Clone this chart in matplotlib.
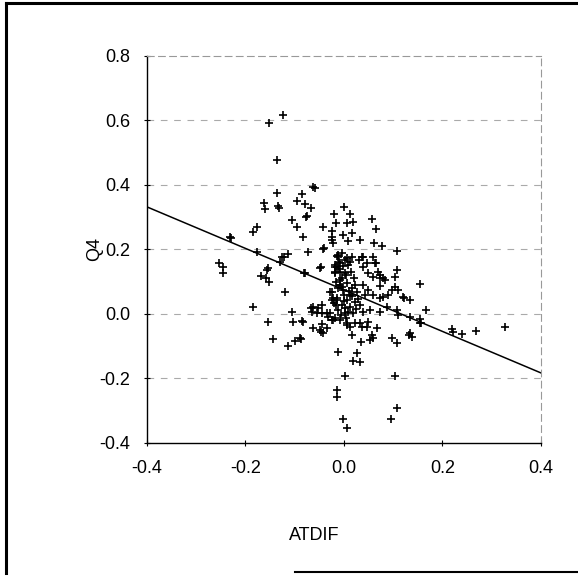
import matplotlib
matplotlib.use("Agg")
import matplotlib.pyplot as plt
from matplotlib.lines import Line2D

plt.rcParams['font.family'] = ['Liberation Sans', 'DejaVu Sans']

# scatter points (ATDIF, Q4)
atdif = [-0.124, -0.152, -0.136, -0.136, -0.063, -0.059, -0.162, -0.160, -0.134, -0.132,
         -0.095, -0.085, -0.079, -0.067, -0.077, -0.075, -0.020, -0.016, -0.106, -0.095,
         -0.043, -0.177, -0.185, -0.083, -0.229, -0.231, -0.024, -0.024, -0.024, -0.022,
         -0.073, -0.043, -0.012, -0.122, -0.114, -0.177, -0.254, -0.246, -0.246, -0.154,
         -0.049, -0.018, -0.169, -0.156, -0.158, -0.152, -0.120, -0.185, -0.106, -0.154,
         -0.104, -0.085, -0.144, -0.114, -0.099, -0.087, -0.063, -0.049, -0.043, -0.035,
         -0.067, -0.063, -0.045, -0.055, -0.045, -0.035, -0.028, -0.022, -0.012, -0.014,
         -0.014, -0.024, -0.022, -0.014, -0.024, -0.018, -0.018, -0.079, -0.083, -0.045,
         -0.047, 0.006, 0.022, 0.049, 0.067, 0.016, 0.037, 0.057, 0.053, 0.059,
         0.035, 0.097, 0.108, 0.132, 0.026, 0.018, 0.032, 0.002, 0.104, 0.108,
         -0.002, 0.095, 0.006, 0.154, 0.122, 0.134, 0.166, 0.154, 0.154, 0.156,
         0.134, 0.138, 0.219, 0.221, 0.240, 0.268, 0.327, 0.108, 0.104, 0.104,
         0.110, 0.108, 0.065, 0.073, 0.079, 0.089, 0.079, 0.073, -0.047, -0.081,
         -0.089, -0.041, 0.000, 0.012, 0.006, 0.018, 0.057, 0.065, -0.002, 0.016,
         0.008, 0.032, 0.061, 0.077, 0.037, 0.059, -0.012, 0.006, 0.012, -0.008,
         -0.002, 0.108, -0.126, -0.130, -0.014, -0.004, -0.010, 0.002, 0.016, 0.008,
         -0.014, -0.008, -0.018, 0.002, 0.039, 0.063, 0.047, 0.039, 0.030, 0.049,
         0.069, 0.059, 0.073, 0.083, -0.008, 0.006, 0.016, -0.002, 0.026, 0.039,
         0.049, 0.059, 0.073, -0.028, 0.097, -0.014, 0.006, 0.022, -0.004, 0.012,
         0.032, -0.012, 0.002, 0.018, 0.039, 0.053, 0.073, 0.087, -0.053, -0.065,
         -0.032, -0.024, -0.008, 0.006, 0.032, 0.047, 0.012, 0.110, 0.134, 0.120,
         -0.008, 0.000, -0.016, -0.006, 0.004, 0.012, 0.022, -0.004, -0.012, 0.016,
         0.002, -0.018, 0.008, -0.010, 0.004, 0.020, -0.004, 0.010, 0.028, -0.020,
         0.000, 0.014, -0.016, 0.024, 0.042]
q4 = [0.617, 0.592, 0.478, 0.375, 0.394, 0.391, 0.344, 0.326, 0.335, 0.329,
      0.350, 0.372, 0.341, 0.329, 0.301, 0.304, 0.310, 0.282, 0.291, 0.270,
      0.270, 0.270, 0.254, 0.239, 0.236, 0.239, 0.257, 0.239, 0.229, 0.220,
      0.192, 0.202, 0.183, 0.177, 0.186, 0.192, 0.158, 0.146, 0.127, 0.143,
      0.143, 0.152, 0.118, 0.136, 0.112, 0.099, 0.068, 0.022, 0.006, -0.025,
      -0.025, -0.022, -0.078, -0.099, -0.084, -0.078, -0.043, -0.050, -0.059, -0.043,
      0.019, 0.022, 0.028, 0.003, 0.003, 0.003, 0.003, -0.019, -0.118, -0.236,
      -0.257, 0.068, 0.050, 0.043, 0.043, 0.146, 0.127, 0.127, -0.025, -0.031,
      -0.056, -0.034, -0.028, -0.025, -0.043, -0.065, -0.040, -0.065, -0.081, -0.074,
      -0.087, -0.074, -0.090, -0.065, -0.121, -0.146, -0.149, -0.192, -0.192, -0.291,
      -0.326, -0.326, -0.353, 0.093, 0.050, 0.043, 0.012, -0.016, -0.028, -0.028,
      -0.059, -0.071, -0.047, -0.056, -0.062, -0.053, -0.040, 0.136, 0.115, 0.084,
      0.074, 0.012, 0.158, 0.121, 0.112, 0.059, 0.053, 0.087, 0.146, 0.127,
      -0.074, 0.205, 0.332, 0.310, 0.282, 0.285, 0.295, 0.264, 0.245, 0.251,
      0.226, 0.229, 0.220, 0.211, 0.177, 0.177, 0.177, 0.174, 0.161, 0.158,
      0.149, 0.195, 0.177, 0.161, 0.180, 0.189, 0.161, 0.167, 0.177, 0.152,
      0.146, 0.130, 0.130, 0.127, 0.177, 0.158, 0.158, 0.146, 0.167, 0.127,
      0.130, 0.115, 0.112, 0.105, 0.105, 0.096, 0.081, 0.074, 0.068, 0.090,
      0.074, 0.059, 0.050, 0.068, 0.074, 0.050, 0.043, 0.037, 0.028, 0.022,
      0.028, 0.012, 0.003, 0.003, 0.006, 0.012, 0.006, 0.022, 0.019, 0.006,
      -0.009, -0.019, -0.019, -0.028, -0.028, -0.040, -0.040, -0.003, -0.009, 0.053,
      0.090, 0.059, 0.028, -0.003, -0.012, 0.059, 0.090, 0.112, 0.081, 0.056,
      0.019, -0.012, 0.006, 0.140, 0.120, 0.110, 0.085, 0.070, 0.045, 0.035,
      0.040, 0.130, 0.100, 0.016, 0.060]

# fitted regression line end points
fit_x = [-0.4, 0.4]
fit_y = [0.332, -0.183]

x_ticks = [-0.4, -0.2, 0.0, 0.2, 0.4]
y_ticks = [-0.4, -0.2, 0.0, 0.2, 0.4, 0.6, 0.8]

fig = plt.figure(figsize=(5.78, 5.76), dpi=100)
ax = fig.add_axes([0.254, 0.231, 0.682, 0.672])

# dashed horizontal grid
for yt in y_ticks[1:-1]:
    ax.axhline(yt, color='#aaaaaa', lw=0.8, ls=(0, (6, 6)), zorder=0)

ax.plot(atdif, q4, '+', color='black', ms=6, mew=1.2, zorder=3)
ax.plot(fit_x, fit_y, color='black', lw=1.1, zorder=2)

ax.set_xlim(-0.4, 0.4)
ax.set_ylim(-0.4, 0.8)
ax.set_xticks(x_ticks)
ax.set_yticks(y_ticks)
ax.set_xticklabels(['%.1f' % v for v in x_ticks])
ax.set_yticklabels(['%.1f' % v for v in y_ticks])
ax.tick_params(direction='inout', length=4, width=0.8, labelsize=13, pad=10)

for side in ['top', 'right']:
    ax.spines[side].set_linestyle((0, (6, 4)))
    ax.spines[side].set_color('#999999')
    ax.spines[side].set_linewidth(0.8)
for side in ['left', 'bottom']:
    ax.spines[side].set_linewidth(1.0)

ax.set_xlabel('ATDIF', fontsize=13)
ax.set_ylabel('Q4', fontsize=13)
ax.xaxis.set_label_coords(0.424, -0.217)
ax.yaxis.set_label_coords(-0.11, 0.5)

# scanned page frame
fig.add_artist(Line2D([0.01, 0.01], [0.005, 0.994], transform=fig.transFigure, color='black', lw=2.2))
fig.add_artist(Line2D([0.01, 1.0], [0.994, 0.994], transform=fig.transFigure, color='black', lw=2.2))
fig.add_artist(Line2D([0.51, 1.0], [0.007, 0.007], transform=fig.transFigure, color='black', lw=1.5))

fig.savefig('out.png', dpi=100)
